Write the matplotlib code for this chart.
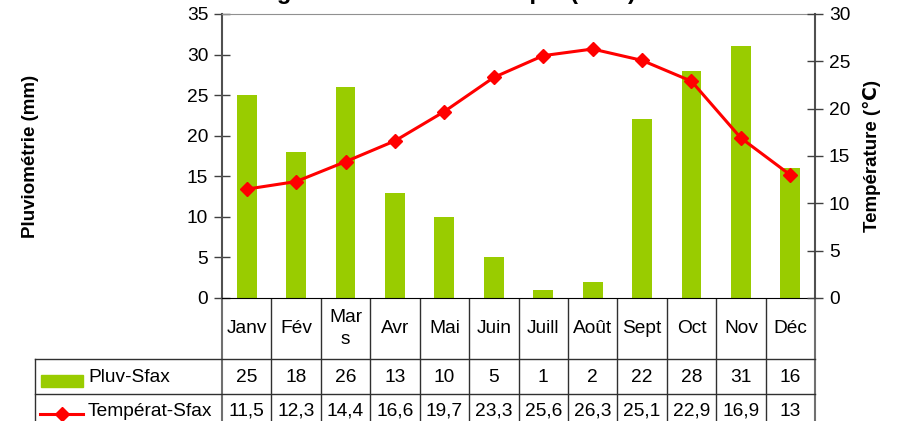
import numpy as np
import matplotlib.pyplot as plt
from matplotlib.patches import Rectangle
from matplotlib.lines import Line2D

plt.rcParams['font.family'] = ['Liberation Sans', 'DejaVu Sans']

# données
mois = ['Janv', 'Fév', 'Mar\ns', 'Avr', 'Mai', 'Juin', 'Juill', 'Août', 'Sept', 'Oct', 'Nov', 'Déc']
pluv = [25, 18, 26, 13, 10, 5, 1, 2, 22, 28, 31, 16]
temp = [11.5, 12.3, 14.4, 16.6, 19.7, 23.3, 25.6, 26.3, 25.1, 22.9, 16.9, 13]
serie_pluv = 'Pluv-Sfax'
serie_temp = 'Températ-Sfax'
titre = 'Diagramme ombrothermique (Sfax)'

vert = '#99CC00'
rouge = '#FF0000'
W, H = 900, 421
fs = 13.8

fig = plt.figure(figsize=(W / 100, H / 100), dpi=100)

# zone de tracé (en pixels)
x0, x1, ytop, ybot = 222, 815, 14, 298
ax = fig.add_axes([x0 / W, 1 - ybot / H, (x1 - x0) / W, (ybot - ytop) / H])
x = np.arange(len(mois))
ax.bar(x, pluv, width=0.4, color=vert, zorder=2)
ax.set_xlim(-0.5, len(mois) - 0.5)
ax.set_ylim(0, 35)
ax.set_yticks(np.arange(0, 36, 5))
ax.set_xticks([])
ax.tick_params(axis='y', direction='inout', length=12, width=1, colors='#404040',
               labelcolor='black', labelsize=fs, pad=4)
ax.spines['top'].set_color('#909090')
ax.spines['left'].set_color('#505050')
ax.spines['left'].set_linewidth(1.5)
ax.spines['right'].set_color('#505050')
ax.spines['right'].set_linewidth(1.5)
ax.spines['bottom'].set_color('black')

ax2 = ax.twinx()
ax2.plot(x, temp, color=rouge, lw=2.2, marker='D', markersize=7.5, zorder=3)
ax2.set_ylim(0, 30)
ax2.set_yticks(np.arange(0, 31, 5))
ax2.tick_params(axis='y', direction='inout', length=12, width=1, colors='#404040',
                labelcolor='black', labelsize=fs, pad=4)
for s in ax2.spines.values():
    s.set_visible(False)

fig.text(31 / W, 1 - 156 / H, 'Pluviométrie (mm)', rotation=90, ha='center', va='center',
         fontsize=13.5, fontweight='bold')
fig.text(872 / W, 1 - 156 / H, 'Température (℃)', rotation=90, ha='center', va='center',
         fontsize=13.5, fontweight='bold')
# titre coupé en haut comme sur l'original
fig.text(438 / W, 1 + 1 / H, titre, ha='center', va='baseline', fontsize=17, fontweight='bold')

# table de données
tb = fig.add_axes([0, 0, 1, 1], zorder=-1)
tb.set_xlim(0, W)
tb.set_ylim(H, 0)
tb.axis('off')
bords = np.linspace(x0, x1, len(mois) + 1)
centres = (bords[:-1] + bords[1:]) / 2
y_h, y_r1, y_r2, y_end = ybot, 359, 394, 430
xl = 35

for i, b in enumerate(bords):
    ext = i in (0, len(mois))
    tb.plot([b, b], [y_h, y_end], color='#707070' if ext else '#303030',
            lw=1.5 if ext else 1)
for yy in (y_r1, y_r2):
    tb.plot([xl, x1], [yy, yy], color='#303030', lw=1)
tb.plot([xl, xl], [y_r1, y_end], color='#303030', lw=1)

for c, m, p, t in zip(centres, mois, pluv, temp):
    tb.text(c, (y_h + y_r1) / 2, m, ha='center', va='center', fontsize=fs, linespacing=1.45)
    tb.text(c, (y_r1 + y_r2) / 2 + 1, str(p), ha='center', va='center', fontsize=fs)
    tb.text(c, 411, f'{t:g}'.replace('.', ','), ha='center', va='center', fontsize=fs)

tb.add_patch(Rectangle((41, 375), 42, 12, color=vert))
tb.text(88, (y_r1 + y_r2) / 2 + 1, serie_pluv, ha='left', va='center', fontsize=fs)
tb.add_line(Line2D([40, 83], [414, 414], color=rouge, lw=2.2))
tb.add_line(Line2D([62], [414], color=rouge, marker='D', markersize=7))
tb.text(88, 411, serie_temp, ha='left', va='center', fontsize=fs)

fig.savefig('out.png', dpi=100)
